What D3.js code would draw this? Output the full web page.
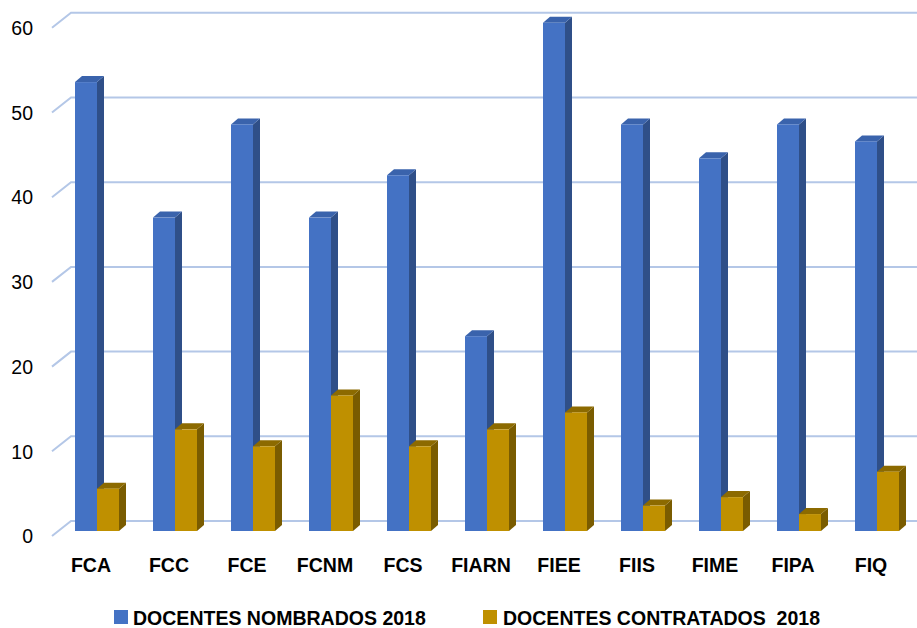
<!DOCTYPE html>
<html>
<head>
<meta charset="utf-8">
<script src="https://cdn.jsdelivr.net/npm/d3@7"></script>
<style>
  html, body { margin: 0; padding: 0; background: #fff; }
  svg { display: block; }
  text { font-family: "Liberation Sans", Arial, sans-serif; }
</style>
</head>
<body>
<svg id="chart" width="917" height="628"></svg>
<script>
const categories = ["FCA", "FCC", "FCE", "FCNM", "FCS", "FIARN", "FIEE", "FIIS", "FIME", "FIPA", "FIQ"];
const nombrados = [53, 37, 48, 37, 42, 23, 60, 48, 44, 48, 46];
const contratados = [5, 12, 10, 16, 10, 12, 14, 3, 4, 2, 7];
const seriesNames = ["DOCENTES NOMBRADOS 2018", "DOCENTES CONTRATADOS  2018"];
const yTicks = [0, 10, 20, 30, 40, 50, 60];

const colors = [
  { front: "#4472C4", side: "#2F4F88", top: "#3A63AC" },
  { front: "#BF9000", side: "#7A5C00", top: "#8C6A00" }
];

const svg = d3.select("#chart");
const depthX = 7, depthY = -6;      // bar depth
const squeeze = "scale(0.93,1)";

const y = d3.scaleLinear().domain([0, 60]).range([531, 22.8]);
const x = d3.scaleBand().domain(categories).range([58, 916]).padding(0);
const xs = d3.scaleBand().domain([0, 1])
  .range([x.bandwidth() / 2 - 22, x.bandwidth() / 2 + 22]).padding(0);

// gridlines (back wall + diagonal to front)
const grid = svg.append("g");
const frontX = 52, backX = 71;
yTicks.forEach(t => {
  const yb = y(t) - 10;
  grid.append("path")
    .attr("d", `M${frontX},${yb + 15}L${backX},${yb}L917,${yb}`)
    .attr("fill", "none")
    .attr("stroke", "#B4C7E7")
    .attr("stroke-width", 2);
});

// bars
const data = [nombrados, contratados];
const bars = svg.append("g");
categories.forEach((c, i) => {
  data.forEach((vals, s) => {
    const v = vals[i];
    const x0 = x(c) + xs(s);
    const w = xs.bandwidth();
    const y0 = y(v), y1 = y(0);
    const col = colors[s];
    bars.append("path")
      .attr("d", `M${x0 + w},${y0}L${x0 + w + depthX},${y0 + depthY}L${x0 + w + depthX},${y1 + depthY}L${x0 + w},${y1}Z`)
      .attr("fill", col.side);
    bars.append("path")
      .attr("d", `M${x0},${y0}L${x0 + depthX},${y0 + depthY}L${x0 + w + depthX},${y0 + depthY}L${x0 + w},${y0}Z`)
      .attr("fill", col.top);
    bars.append("rect")
      .attr("x", x0).attr("y", y0)
      .attr("width", w).attr("height", y1 - y0)
      .attr("fill", col.front);
  });
});

// y axis labels
const yAxis = svg.append("g")
  .attr("transform", "translate(33,5)")
  .call(d3.axisLeft(y).tickValues(yTicks).tickSize(0).tickPadding(0));
yAxis.select(".domain").remove();
yAxis.selectAll("text")
  .attr("font-family", "'Liberation Sans', Arial, sans-serif")
  .attr("font-size", 21)
  .attr("transform", squeeze)
  .attr("fill", "#000");

// x axis labels
const xAxis = svg.append("g")
  .attr("transform", "translate(-6,557)")
  .call(d3.axisBottom(x).tickSize(0).tickPadding(0));
xAxis.select(".domain").remove();
xAxis.selectAll("text")
  .attr("font-family", "'Liberation Sans', Arial, sans-serif")
  .attr("font-size", 21)
  .attr("font-weight", "bold")
  .attr("transform", squeeze)
  .attr("fill", "#000");

// legend
const legendPos = [{ sx: 114, tx: 133 }, { sx: 483, tx: 503 }];
const legend = svg.append("g");
seriesNames.forEach((n, s) => {
  legend.append("rect")
    .attr("x", legendPos[s].sx).attr("y", 610)
    .attr("width", 14).attr("height", 14)
    .attr("fill", colors[s].front);
  legend.append("text")
    .attr("transform", `translate(${legendPos[s].tx},625) ${squeeze}`)
    .attr("font-size", 21)
    .attr("font-weight", "bold")
    .attr("fill", "#000")
    .attr("xml:space", "preserve")
    .style("white-space", "pre")
    .text(n);
});
</script>
</body>
</html>
